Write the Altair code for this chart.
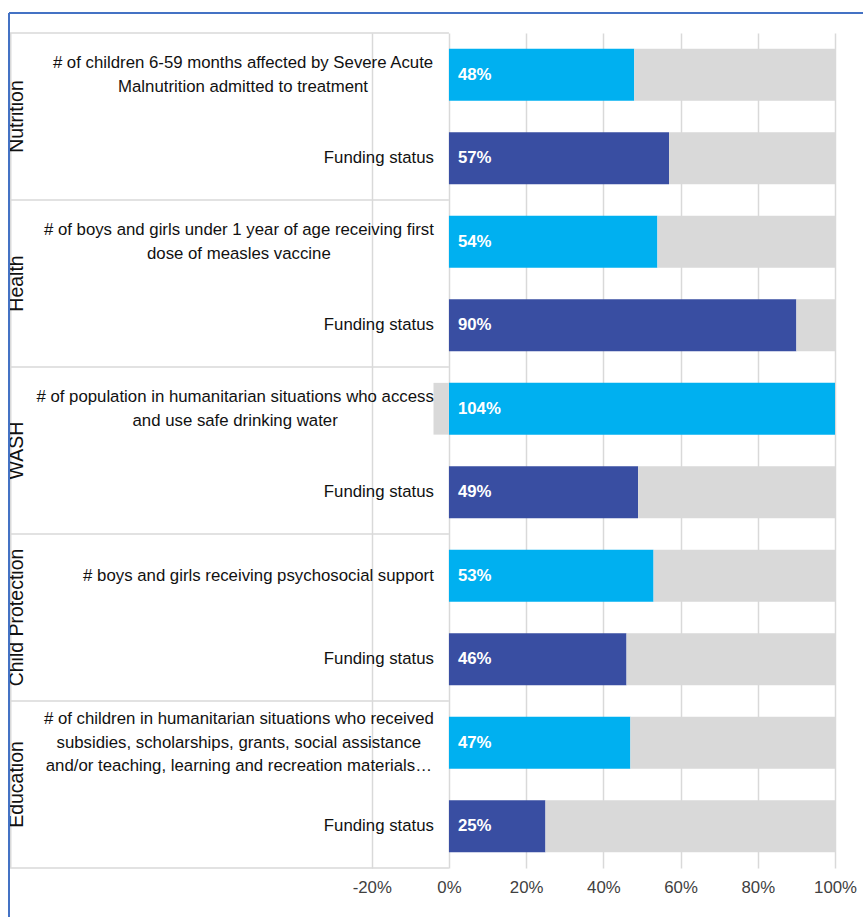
import altair as alt
import pandas as pd

# ---------------- data ----------------
sectors = ["Nutrition", "Health", "WASH", "Child Protection", "Education"]
indicators = [
    "# of children 6-59 months affected by Severe Acute\nMalnutrition admitted to treatment",
    "# of boys and girls under 1 year of age receiving first\ndose of measles vaccine",
    "# of population in humanitarian situations who access\nand use safe drinking water",
    "# boys and girls receiving psychosocial support",
    "# of children in humanitarian situations who received\nsubsidies, scholarships, grants, social assistance\nand/or teaching, learning and recreation materials\u2026",
]
funding_label = "Funding status"
indicator_pct = [48, 54, 104, 53, 47]
funding_pct = [57, 90, 49, 46, 25]
x_ticks = [-20, 0, 20, 40, 60, 80, 100]

# ---------------- layout / style ----------------
W, H = 825, 835
XMIN, XMAX = -113.7, 100
PPU = W / (XMAX - XMIN)
FS = 16.8
LH = 23.5
LABEL_RIGHT = 424  # px from plot left edge where the category labels end
FONT = "Liberation Sans"
C_IND, C_FUND, C_REST = "#00B0F0", "#394EA2", "#D9D9D9"
GRID = "#D9D9D9"

# Arial / Liberation Sans advance widths (per 1000 em) for centring label blocks
_AW = {
    " ": 278, "#": 556, "%": 889, ",": 278, "-": 333, ".": 278, "/": 278, "\u2026": 1000,
    "0": 556, "1": 556, "2": 556, "3": 556, "4": 556, "5": 556, "6": 556, "7": 556, "8": 556, "9": 556,
    "A": 667, "B": 667, "C": 722, "D": 722, "E": 667, "F": 611, "G": 778, "H": 722, "I": 278,
    "J": 500, "K": 667, "L": 556, "M": 833, "N": 722, "O": 778, "P": 667, "Q": 778, "R": 722,
    "S": 667, "T": 611, "U": 722, "V": 667, "W": 944, "X": 667, "Y": 667, "Z": 611,
    "a": 556, "b": 556, "c": 500, "d": 556, "e": 556, "f": 278, "g": 556, "h": 556, "i": 222,
    "j": 222, "k": 500, "l": 222, "m": 833, "n": 556, "o": 556, "p": 556, "q": 556, "r": 333,
    "s": 500, "t": 278, "u": 556, "v": 500, "w": 722, "x": 500, "y": 500, "z": 500,
}


def text_w(s, fs):
    return max(sum(_AW.get(ch, 556) for ch in line) for line in s.split("\n")) * fs / 1000.0


row_ids, bar_rows, lab_rows, sec_rows, pct_rows = [], [], [], [], []
for s, ind, vi, vf in zip(sectors, indicators, indicator_pct, funding_pct):
    r1, r2 = s + "|ind", s + "|fund"
    row_ids += [r1, r2]
    for r, v, k, txt in [(r1, vi, "ind", ind), (r2, vf, "fund", funding_label)]:
        bar_rows.append({"row": r, "val": v, "kind": k, "ord": 0})
        bar_rows.append({"row": r, "val": 100 - v, "kind": "rest", "ord": 1})
        cx_px = LABEL_RIGHT - text_w(txt, FS) / 2
        lab_rows.append({"row": r, "text": txt, "cx": XMIN + cx_px / PPU,
                         "n": txt.count("\n") + 1})
        pct_rows.append({"row": r, "pct": f"{v}%"})
    sec_rows.append({"row": r1, "sector": s})

bar_df = pd.DataFrame(bar_rows)
lab_df = pd.DataFrame(lab_rows)
sec_df = pd.DataFrame(sec_rows)
pct_df = pd.DataFrame(pct_rows)
one = pd.DataFrame({"k": [0]})

xscale = alt.Scale(domain=[XMIN, XMAX], nice=False, zero=False)
yscale = alt.Scale(domain=row_ids, paddingInner=0, paddingOuter=0)

xaxis = alt.Axis(
    values=x_ticks, labelExpr="datum.value + '%'", grid=True, gridColor=GRID,
    gridWidth=1.5, domain=False, ticks=False, labelFontSize=FS, labelColor="#404040",
    labelFont=FONT, labelPadding=11, labelFlush=False, labelOverlap=False, title=None,
)

bars = alt.Chart(bar_df).mark_bar(height=alt.RelativeBandSize(0.62), clip=True).encode(
    x=alt.X("val:Q", stack="zero", scale=xscale, axis=xaxis),
    y=alt.Y("row:N", scale=yscale, axis=None),
    color=alt.Color("kind:N", scale=alt.Scale(domain=["ind", "fund", "rest"],
                                                range=[C_IND, C_FUND, C_REST]), legend=None),
    order=alt.Order("ord:Q"),
)

# table lines of the category area
hlines = alt.Chart(sec_df).mark_rule(color=GRID, strokeWidth=1.5).encode(
    x=alt.datum(XMIN, scale=xscale), x2=alt.datum(0),
    y=alt.Y("row:N", scale=yscale, axis=None, bandPosition=0),
)
bottom_line = alt.Chart(one).mark_rule(color=GRID, strokeWidth=1.5).encode(
    x=alt.datum(XMIN, scale=xscale), x2=alt.datum(0), y=alt.value(H),
)
left_line = alt.Chart(one).mark_rule(color=GRID, strokeWidth=1.5).encode(
    x=alt.value(0.75), y=alt.value(0), y2=alt.value(H),
)

label_layers = []
for n in sorted(lab_df["n"].unique()):
    label_layers.append(
        alt.Chart(lab_df).transform_filter(alt.datum.n == int(n)).mark_text(
            align="center", baseline="middle", fontSize=FS, font=FONT, color="#111111",
            lineBreak="\n", lineHeight=LH, dy=-(int(n) - 1) * LH / 2,
        ).encode(
            x=alt.X("cx:Q", scale=xscale),
            y=alt.Y("row:N", scale=yscale, axis=None),
            text="text:N",
        )
    )

sector_labels = alt.Chart(sec_df).mark_text(
    angle=270, align="center", baseline="alphabetic", fontSize=19.5, font=FONT,
    color="#111111", clip=True,
).encode(
    x=alt.value(12.5),
    y=alt.Y("row:N", scale=yscale, axis=None, bandPosition=1),
    text="sector:N",
)

pct_labels = alt.Chart(pct_df).mark_text(
    align="left", baseline="middle", dx=9, fontSize=FS, font=FONT, fontWeight="bold",
    color="white",
).encode(
    x=alt.datum(0),
    y=alt.Y("row:N", scale=yscale, axis=None),
    text="pct:N",
)

frame_top = alt.Chart(one).mark_rule(color="#4472C4", strokeWidth=2).encode(
    x=alt.value(-1), x2=alt.value(W + 28), y=alt.value(-20),
)
frame_left = alt.Chart(one).mark_rule(color="#4472C4", strokeWidth=2).encode(
    x=alt.value(-1), y=alt.value(-20), y2=alt.value(H + 49),
)

chart = alt.layer(
    bars, hlines, bottom_line, left_line, *label_layers, sector_labels, pct_labels,
    frame_top, frame_left,
).properties(
    width=W, height=H,
    padding={"left": 10, "top": 33, "right": 28, "bottom": 49},
    autosize=alt.AutoSizeParams(type="none"),
    background="white",
).configure_view(stroke=None)

chart.save("out.html", embed_options={"renderer": "svg", "actions": False})
